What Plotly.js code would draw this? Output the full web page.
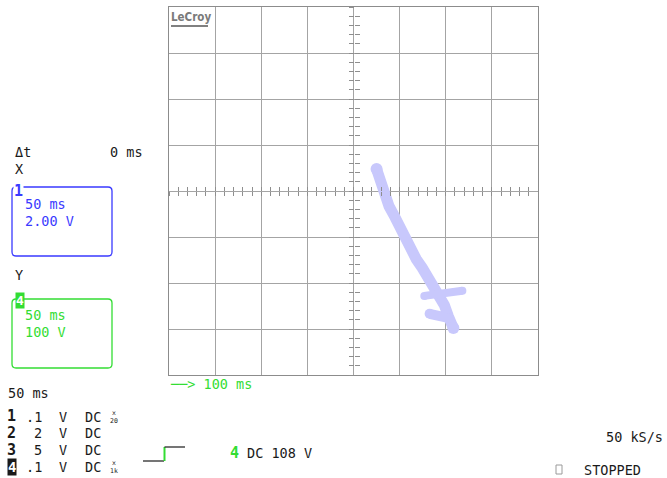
<!DOCTYPE html>
<html>
<head>
<meta charset="utf-8">
<script src="https://cdn.plot.ly/plotly-3.0.1.min.js"></script>
<style>html,body{margin:0;padding:0;background:#fff;}#plot{width:667px;height:478px;}</style>
</head>
<body>
<div id="plot"></div>
<script>
// ---- Data (X = channel 1 volts, Y = channel 4 volts) ----
const mainX = [1.00, 1.15, 1.33, 1.54, 1.80, 2.02, 2.24, 2.46, 2.72, 2.98, 3.24, 3.50, 3.76, 3.94, 4.11, 4.33];
const mainY = [48, 20, -9, -33, -57, -80, -107, -128, -148, -167, -187, -204, -226, -248, -272, -298];
const branchX = [3.07, 3.85, 4.72];
const branchY = [-228, -224, -217];
const blobX = [3.30, 3.75, 4.10];
const blobY = [-267, -272, -276];

const xRange = [-8, 8];     // 2.00 V/div, 8 divisions
const yRange = [-400, 400]; // 100 V/div, 8 divisions

// ---- Geometry helpers (pixel -> paper) ----
const L = 169, R = 538, T = 7, B = 375;
const fx = p => (p - L) / (R - L);
const fy = p => (B - p) / (B - T);

const MONO = 'DejaVu Sans Mono';
const BLACK = '#1a1a1a', BLUE = '#3a3aff', GREEN = '#33dd33';
const TRACE = '#c8c8fc';

function ann(text, x, y, color, size, extra) {
  return Object.assign({
    text: text, x: fx(x), y: fy(y), xref: 'paper', yref: 'paper',
    xanchor: 'left', yanchor: 'middle', showarrow: false,
    font: {family: MONO, size: size || 13.5, color: color || BLACK},
    borderpad: 0
  }, extra || {});
}

function roundBox(x0, y0, x1, y1, r, color) {
  const X = fx, Y = fy;
  const path = 'M' + X(x0 + r) + ',' + Y(y0) +
    ' L' + X(x1 - r) + ',' + Y(y0) + ' Q' + X(x1) + ',' + Y(y0) + ' ' + X(x1) + ',' + Y(y0 + r) +
    ' L' + X(x1) + ',' + Y(y1 - r) + ' Q' + X(x1) + ',' + Y(y1) + ' ' + X(x1 - r) + ',' + Y(y1) +
    ' L' + X(x0 + r) + ',' + Y(y1) + ' Q' + X(x0) + ',' + Y(y1) + ' ' + X(x0) + ',' + Y(y1 - r) +
    ' L' + X(x0) + ',' + Y(y0 + r) + ' Q' + X(x0) + ',' + Y(y0) + ' ' + X(x0 + r) + ',' + Y(y0) + ' Z';
  return {type: 'path', xref: 'paper', yref: 'paper', path: path, line: {color: color, width: 1.3}};
}

function seg(x0, y0, x1, y1, color, w) {
  return {type: 'line', xref: 'paper', yref: 'paper', x0: fx(x0), y0: fy(y0), x1: fx(x1), y1: fy(y1),
    line: {color: color, width: w || 1.3}};
}

function band(xs, ys, w) {
  return {x: xs, y: ys, mode: 'lines', line: {color: TRACE, width: w},
    hoverinfo: 'skip', showlegend: false};
}
function caps(xs, ys, w) {
  return {x: [xs[0], xs[xs.length - 1]], y: [ys[0], ys[ys.length - 1]], mode: 'markers',
    marker: {color: TRACE, size: w, line: {width: 0}}, hoverinfo: 'skip', showlegend: false};
}

const traces = [
  band(mainX, mainY, 11), caps(mainX, mainY, 12),
  band(branchX, branchY, 8), caps(branchX, branchY, 8),
  band(blobX, blobY, 10), caps(blobX, blobY, 10),
  // helpers to materialize the centre tick axes
  {x: [0], y: [0], xaxis: 'x2', yaxis: 'y', mode: 'markers', marker: {opacity: 0}, hoverinfo: 'skip', showlegend: false},
  {x: [0], y: [0], xaxis: 'x3', yaxis: 'y', mode: 'markers', marker: {opacity: 0}, hoverinfo: 'skip', showlegend: false},
  {x: [0], y: [0], xaxis: 'x', yaxis: 'y2', mode: 'markers', marker: {opacity: 0}, hoverinfo: 'skip', showlegend: false},
  {x: [0], y: [0], xaxis: 'x', yaxis: 'y3', mode: 'markers', marker: {opacity: 0}, hoverinfo: 'skip', showlegend: false}
];

const GRID = '#a4a4a4';
const TICKC = '#8e8e8e';
const centerTicksX = {overlaying: 'x', anchor: 'free', position: 0.5, range: xRange, tick0: -8, dtick: 0.4,
  ticklen: 4, tickwidth: 1, tickcolor: TICKC, showticklabels: false, showgrid: false, zeroline: false, showline: false, fixedrange: true};
const centerTicksY = {overlaying: 'y', anchor: 'free', position: 0.5, range: yRange, tick0: -400, dtick: 20,
  ticklen: 5, tickwidth: 1, tickcolor: TICKC, showticklabels: false, showgrid: false, zeroline: false, showline: false, fixedrange: true};

const layout = {
  width: 667, height: 478,
  margin: {l: L, r: 667 - R, t: T, b: 478 - B, pad: 0},
  paper_bgcolor: '#ffffff', plot_bgcolor: '#ffffff',
  xaxis: {range: xRange, dtick: 2, tick0: -8, showgrid: true, gridcolor: GRID, gridwidth: 1,
    zeroline: false, showline: true, linecolor: '#8c8c8c', linewidth: 1, mirror: true,
    showticklabels: false, ticks: '', fixedrange: true},
  yaxis: {range: yRange, dtick: 100, tick0: -400, showgrid: true, gridcolor: GRID, gridwidth: 1,
    zeroline: false, showline: true, linecolor: '#8c8c8c', linewidth: 1, mirror: true,
    showticklabels: false, ticks: '', fixedrange: true},
  xaxis2: Object.assign({}, centerTicksX, {ticks: 'outside'}),
  xaxis3: Object.assign({}, centerTicksX, {ticks: 'inside'}),
  yaxis2: Object.assign({}, centerTicksY, {ticks: 'outside'}),
  yaxis3: Object.assign({}, centerTicksY, {ticks: 'inside'}),
  shapes: [
    roundBox(12, 187, 112, 256, 4, BLUE),
    roundBox(12, 299, 112, 368, 4, GREEN),
    seg(171, 26, 208, 26, '#808080', 2),
    // trigger symbol
    seg(143, 461, 164, 461, BLACK, 1.2),
    seg(164.5, 461, 164.5, 447, GREEN, 2),
    seg(164.5, 447, 185, 447, BLACK, 1.2),
    // stopped square
    {type: 'rect', xref: 'paper', yref: 'paper', x0: fx(556), x1: fx(562), y0: fy(465), y1: fy(474),
      line: {color: '#9a9a9a', width: 1}}
  ],
  annotations: [
    ann('<b>LeCroy</b>', 170, 17, '#7a7a7a', 11.5, {font: {family: 'DejaVu Sans Condensed', size: 11.5, color: '#7a7a7a'}}),
    ann('Δt', 14, 152),
    ann('0 ms', 109, 152),
    ann('X', 14, 169),
    ann('<b>1</b>', 13, 191, BLUE, 15, {bgcolor: '#ffffff'}),
    ann('50 ms', 24, 204, BLUE),
    ann('2.00 V', 24, 221, BLUE),
    ann('Y', 14, 275),
    ann('<b>4</b>', 15, 300, '#ffffff', 13, {bgcolor: GREEN}),
    ann('50 ms', 24, 315, GREEN),
    ann('100 V', 24, 332, GREEN),
    ann('──> 100 ms', 169, 384, GREEN),
    ann('50 ms', 7, 393),
    ann('<b>1</b>', 6, 416, BLACK, 15),
    ann('.1', 25, 417),
    ann('V', 58, 417),
    ann('DC', 84, 417),
    ann('x<br>20', 109, 417, BLACK, 6.5),
    ann('<b>2</b>', 6, 433, BLACK, 15),
    ann('2', 33, 433),
    ann('V', 58, 433),
    ann('DC', 84, 433),
    ann('<b>3</b>', 6, 450, BLACK, 15),
    ann('5', 33, 450),
    ann('V', 58, 450),
    ann('DC', 84, 450),
    ann('<b>4</b>', 7, 467, '#ffffff', 14, {bgcolor: BLACK}),
    ann('.1', 25, 467),
    ann('V', 58, 467),
    ann('DC', 84, 467),
    ann('x<br>1k', 109, 467, BLACK, 6.5),
    ann('<b>4</b>', 229, 453, GREEN, 15),
    ann('DC 108 V', 246, 453),
    ann('50 kS/s', 605, 437),
    ann('STOPPED', 583, 470)
  ]
};

Plotly.newPlot('plot', traces, layout, {staticPlot: true, displayModeBar: false});
</script>
</body>
</html>
